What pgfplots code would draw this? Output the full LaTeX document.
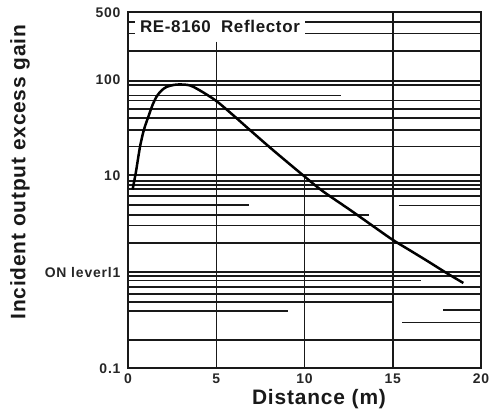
\documentclass[border=0pt]{standalone}
\usepackage{fontspec}
\setmainfont{Liberation Sans}
\newfontfamily\labfont{Liberation Sans}[LetterSpace=4]
\newfontfamily\tickfont{Liberation Sans}[LetterSpace=6]
\usepackage{pgfplots}
\pgfplotsset{compat=1.18}

\pgfplotsset{
  hl/.style={black!90, line width=1.2bp, forget plot},
  hk/.style={black!90, line width=2bp, forget plot},
}

\begin{document}
\begin{tikzpicture}
\path[use as bounding box] (-128bp,-48.7bp) rectangle (371bp,368.3bp);
\begin{axis}[
  at={(0,0)}, anchor=south west,
  scale only axis, width=353bp, height=356bp,
  ymode=log, xmin=0, xmax=20, ymin=0.1, ymax=500,
  xtick={0,5,10,15,20}, xticklabels={0,5,10,15,20},
  ytick={0.1,1,10,100,500}, yticklabels={0.1,ON leverl1,10,100,500},
  major tick length=0pt, minor tick length=0pt,
  axis line style={black!90, line width=1.8bp},
  tick label style={font=\tickfont\bfseries\fontsize{14}{16}\selectfont, black!85},
  xticklabel style={yshift=-2bp},
  yticklabel style={xshift=-4bp},
  xlabel={Distance (m)},
  ylabel={Incident output excess gain},
  label style={font=\labfont\bfseries\fontsize{21}{24}\selectfont, black!90},
  xlabel style={at={(axis description cs:0.541,-0.086)}, anchor=center},
  ylabel style={at={(axis description cs:-0.306,0.551)}, anchor=center},
]
% vertical grid lines
\addplot[hl] coordinates {(5,247.6) (5,0.1)};
\addplot[hl] coordinates {(10,9.7) (10,0.1)};
\addplot[hk] coordinates {(15,500) (15,0.1)};

% horizontal lines (full width)
\addplot[hk] coordinates {(0,399) (20,399)};
\addplot[hl] coordinates {(0,302.7) (20,302.7)};
\addplot[hk] coordinates {(0,198) (20,198)};
\addplot[hl] coordinates {(0,96.6) (20,96.6)};
\addplot[hk] coordinates {(0,87.9) (20,87.9)};
\addplot[hl] coordinates {(0,60.4) (20,60.4)};
\addplot[hl] coordinates {(0,49.5) (20,49.5)};
\addplot[hk] coordinates {(0,39.6) (20,39.6)};
\addplot[hl] coordinates {(0,29.9) (20,29.9)};
\addplot[hl] coordinates {(0,20.1) (20,20.1)};
\addplot[hl] coordinates {(0,10.2) (20,10.2)};
\addplot[hk] coordinates {(0,8.89) (20,8.89)};
\addplot[hl] coordinates {(0,8.03) (20,8.03)};
\addplot[hk] coordinates {(0,7.21) (20,7.21)};
\addplot[hl] coordinates {(0,6.17) (20,6.17)};
\addplot[hl] coordinates {(0,3.03) (20,3.03)};
\addplot[hk] coordinates {(0,2.02) (20,2.02)};
\addplot[hk] coordinates {(0,1.01) (20,1.01)};
\addplot[hl] coordinates {(0,0.91) (20,0.91)};
\addplot[hl] coordinates {(0,0.70) (20,0.70)};
\addplot[hk] coordinates {(0,0.594) (20,0.594)};
\addplot[hk] coordinates {(0,0.197) (20,0.197)};

% horizontal lines (partial)
\addplot[hl] coordinates {(0,68.0) (12.07,68.0)};
\addplot[hl] coordinates {(0,4.97) (6.86,4.97)};
\addplot[hl] coordinates {(15.35,4.92) (20,4.92)};
\addplot[hl] coordinates {(0,3.92) (13.65,3.92)};
\addplot[hl] coordinates {(0,0.817) (16.58,0.817)};
\addplot[hl] coordinates {(0,0.489) (15,0.489)};
\addplot[hl] coordinates {(17.86,0.403) (20,0.403)};
\addplot[hk] coordinates {(0,0.391) (9.05,0.391)};
\addplot[hl] coordinates {(15.54,0.30) (20,0.30)};

% gain curve
\addplot[black, line width=2.5bp, smooth, tension=0.5] coordinates {
  (0.26,7.2) (0.45,11) (0.68,20) (0.9,30) (1.15,41) (1.4,55) (1.63,67)
  (1.9,77) (2.19,84) (2.6,88) (2.95,89) (3.5,87) (4.08,77) (5,60)
  (6,42) (6.9,30) (8,20) (9,14) (9.9,10.2) (11,7) (12.6,4.4) (14,2.9)
  (15,2.16) (16,1.67) (17,1.29) (18,0.99) (19,0.77)
};

\node[fill=white, inner xsep=5bp, inner ysep=3bp, text=black!90,
      font=\labfont\bfseries\fontsize{17}{20}\selectfont]
  at (axis cs:5.21,354) {RE-8160\hspace{0.6em}Reflector};
\end{axis}
\end{tikzpicture}
\end{document}
